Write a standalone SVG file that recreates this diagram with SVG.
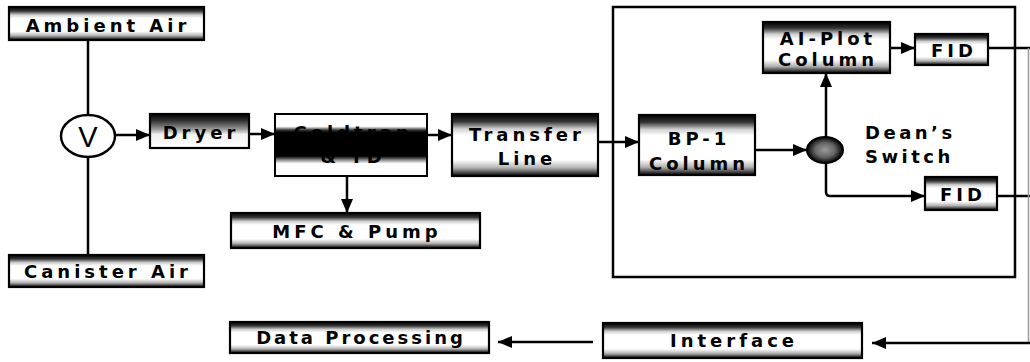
<svg xmlns="http://www.w3.org/2000/svg" width="1030" height="362" viewBox="0 0 1030 362">
<style>
.box{stroke:#000;stroke-width:2.2;fill:url(#gEdge)}
.boxD{stroke:#000;stroke-width:2.2;fill:url(#gDark)}
.t{font-family:"DejaVu Sans","Liberation Sans",sans-serif;font-weight:bold;font-size:18px;letter-spacing:4px;text-anchor:middle;fill:#000}
.ln{stroke:#000;stroke-width:2.5;fill:none}
.ar{stroke:#000;stroke-width:2.5;fill:none;marker-end:url(#ah)}
</style>
<defs>
<marker id="ah" viewBox="0 0 14 12" markerUnits="userSpaceOnUse" markerWidth="14" markerHeight="12" refX="14" refY="6" orient="auto">
<path d="M0,0 L14,6 L0,12 z" fill="#000"/>
</marker>
<linearGradient id="gEdge" x1="0" y1="0" x2="0" y2="1">
<stop offset="0" stop-color="#000"/>
<stop offset="0.12" stop-color="#333"/>
<stop offset="0.24" stop-color="#d0d0d0"/>
<stop offset="0.34" stop-color="#fff"/>
<stop offset="0.74" stop-color="#fff"/>
<stop offset="0.87" stop-color="#b0b0b0"/>
<stop offset="1" stop-color="#000"/>
</linearGradient>
<linearGradient id="gDark" x1="0" y1="0" x2="0" y2="1">
<stop offset="0" stop-color="#000"/>
<stop offset="0.2" stop-color="#333"/>
<stop offset="0.45" stop-color="#999"/>
<stop offset="0.6" stop-color="#f2f2f2"/>
<stop offset="1" stop-color="#fff"/>
</linearGradient>
<linearGradient id="gCold" x1="0" y1="0" x2="0" y2="1">
<stop offset="0" stop-color="#fff"/>
<stop offset="0.2" stop-color="#fff"/>
<stop offset="0.26" stop-color="#333"/>
<stop offset="0.3" stop-color="#000"/>
<stop offset="0.68" stop-color="#000"/>
<stop offset="0.74" stop-color="#888"/>
<stop offset="0.8" stop-color="#fff"/>
<stop offset="1" stop-color="#fff"/>
</linearGradient>
<radialGradient id="gSw">
<stop offset="0" stop-color="#999"/>
<stop offset="0.55" stop-color="#666"/>
<stop offset="1" stop-color="#000"/>
</radialGradient>
</defs>
<rect width="1030" height="362" fill="#fff"/>

<g id="enclosure">
<rect x="613" y="7" width="402" height="270" fill="none" stroke="#000" stroke-width="2.5"/>
</g>

<g id="connectors">
<line class="ln" x1="88" y1="40" x2="88" y2="115"/>
<line class="ln" x1="88" y1="157" x2="88" y2="255"/>
<line class="ar" x1="115" y1="135" x2="150" y2="135"/>
<line class="ar" x1="249" y1="134" x2="275" y2="134"/>
<line class="ar" x1="347" y1="176" x2="347" y2="213"/>
<line class="ar" x1="427" y1="135" x2="452" y2="135"/>
<line class="ar" x1="598" y1="142" x2="639" y2="142"/>
<line class="ar" x1="755" y1="150" x2="807" y2="150"/>
<line class="ar" x1="826" y1="137" x2="826" y2="73"/>
<line class="ar" x1="890" y1="48" x2="915" y2="48"/>
<path class="ar" d="M826,163 V192 Q826,196 830,196 H925"/>
<line class="ln" x1="988" y1="48" x2="1030" y2="48"/>
<line class="ln" x1="997" y1="196" x2="1030" y2="196"/>
<line x1="1028.5" y1="48" x2="1028.5" y2="343" stroke="#999" stroke-width="1.5"/>
<line class="ar" x1="1030" y1="343" x2="872" y2="343"/>
<line class="ar" x1="593" y1="342" x2="498" y2="342"/>
</g>

<g id="ambient-air">
<rect class="box" x="9" y="7" width="195" height="33"/>
<text class="t" x="108" y="32">Ambient Air</text>
</g>

<g id="canister-air">
<rect class="box" x="9" y="255" width="195" height="32"/>
<text class="t" x="108" y="278">Canister Air</text>
</g>

<g id="valve">
<ellipse cx="88" cy="136" rx="27" ry="21" fill="#fff" stroke="#000" stroke-width="2.5"/>
<text x="88" y="147" font-family="Liberation Sans, Arial, sans-serif" font-size="29" text-anchor="middle" fill="#000">V</text>
</g>

<g id="dryer">
<rect class="boxD" x="150" y="114" width="99" height="34"/>
<text class="t" x="201" y="139">Dryer</text>
</g>

<g id="coldtrap">
<rect x="275" y="114" width="152" height="62" fill="url(#gCold)" stroke="#000" stroke-width="2"/>
<text class="t" x="353" y="139">Coldtrap</text>
<text class="t" x="353" y="163">&amp; TD</text>
</g>

<g id="mfc-pump">
<rect class="box" x="231" y="213" width="249" height="35"/>
<text class="t" x="357" y="238">MFC &amp; Pump</text>
</g>

<g id="transfer-line">
<rect class="box" x="452" y="114" width="146" height="62"/>
<text class="t" x="527" y="141">Transfer</text>
<text class="t" x="527" y="165">Line</text>
</g>

<g id="bp1-column">
<rect class="box" x="639" y="115" width="116" height="60"/>
<text class="t" x="699" y="145">BP-1</text>
<text class="t" x="699" y="170">Column</text>
</g>

<g id="deans-switch">
<ellipse cx="825" cy="150" rx="18" ry="13" fill="url(#gSw)" stroke="#000" stroke-width="2"/>
<text class="t" x="865" y="139" style="text-anchor:start;letter-spacing:3.5px">Dean’s</text>
<text class="t" x="865" y="163" style="text-anchor:start;letter-spacing:3.5px">Switch</text>
</g>

<g id="ai-plot-column">
<rect class="box" x="763" y="22" width="127" height="51"/>
<text class="t" x="828" y="45">AI-Plot</text>
<text class="t" x="828" y="66">Column</text>
</g>

<g id="fid-1">
<rect class="box" x="915" y="34" width="73" height="31"/>
<text class="t" x="954" y="57">FID</text>
</g>

<g id="fid-2">
<rect class="box" x="925" y="177" width="72" height="33"/>
<text class="t" x="963" y="201">FID</text>
</g>

<g id="interface">
<rect class="box" x="603" y="323" width="259" height="35"/>
<text class="t" x="734" y="347">Interface</text>
</g>

<g id="data-processing">
<rect class="box" x="230" y="322" width="259" height="31"/>
<text class="t" x="361" y="344" style="letter-spacing:3px">Data Processing</text>
</g>
</svg>
